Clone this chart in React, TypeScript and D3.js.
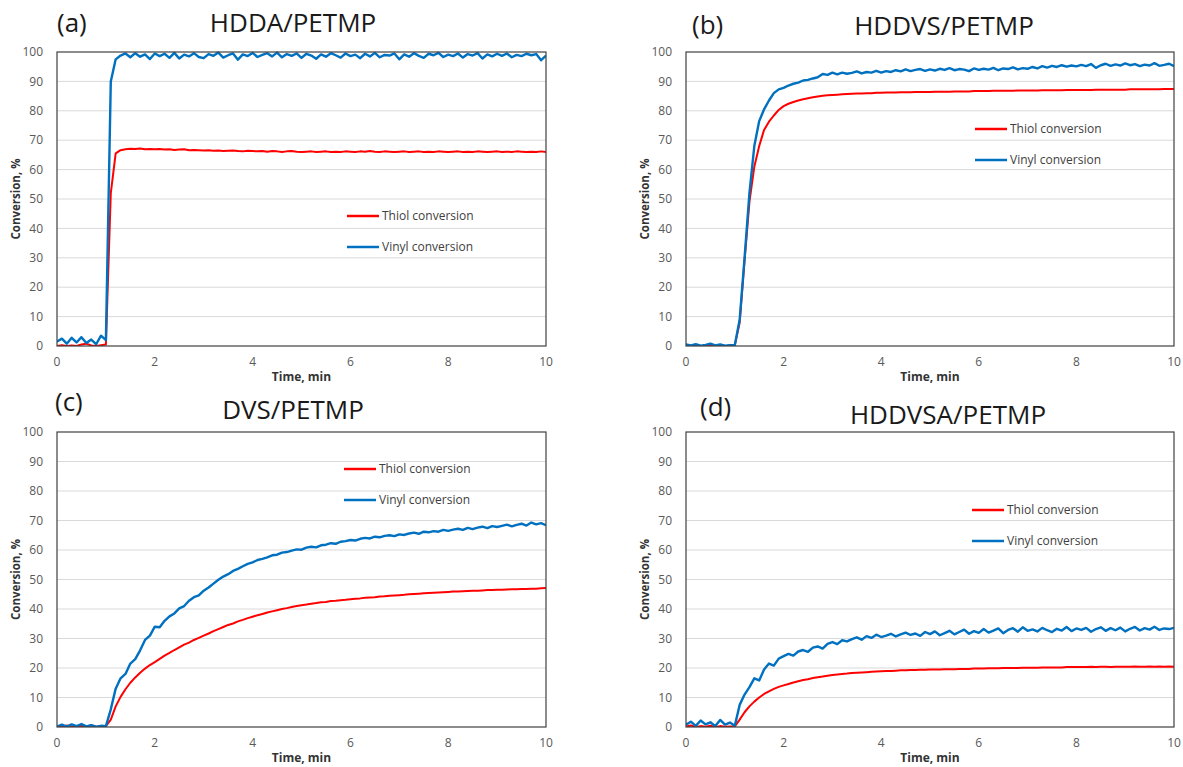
import React from "react";
import * as d3 from "d3";

// ---------- data ----------
const timeMin = [
  0, 0.1, 0.2, 0.3, 0.4, 0.5, 0.6, 0.7, 0.8, 0.9,
  1.0, 1.1, 1.2, 1.3, 1.4, 1.5, 1.6, 1.7, 1.8, 1.9,
  2.0, 2.1, 2.2, 2.3, 2.4, 2.5, 2.6, 2.7, 2.8, 2.9,
  3.0, 3.1, 3.2, 3.3, 3.4, 3.5, 3.6, 3.7, 3.8, 3.9,
  4.0, 4.1, 4.2, 4.3, 4.4, 4.5, 4.6, 4.7, 4.8, 4.9,
  5.0, 5.1, 5.2, 5.3, 5.4, 5.5, 5.6, 5.7, 5.8, 5.9,
  6.0, 6.1, 6.2, 6.3, 6.4, 6.5, 6.6, 6.7, 6.8, 6.9,
  7.0, 7.1, 7.2, 7.3, 7.4, 7.5, 7.6, 7.7, 7.8, 7.9,
  8.0, 8.1, 8.2, 8.3, 8.4, 8.5, 8.6, 8.7, 8.8, 8.9,
  9.0, 9.1, 9.2, 9.3, 9.4, 9.5, 9.6, 9.7, 9.8, 9.9,
  10.0,
];

const xTicks = [0, 2, 4, 6, 8, 10];
const yTicks = [0, 10, 20, 30, 40, 50, 60, 70, 80, 90, 100];

const panelTags = ["(a)", "(b)", "(c)", "(d)"];
const panelTitles = ["HDDA/PETMP", "HDDVS/PETMP", "DVS/PETMP", "HDDVSA/PETMP"];
const seriesNames = ["Thiol conversion", "Vinyl conversion"];

// (a) HDDA/PETMP
const thiolA = [
  0, 0.3, 0, 0.2, 0, 0.5, 0.8, 0.2, 0, 0.3,
  0.5, 52, 65.5, 66.6, 66.9, 67.1, 67.0, 67.2, 66.9, 67.0,
  66.9, 67.0, 66.8, 66.9, 66.7, 66.8, 66.9, 66.6, 66.7, 66.6,
  66.5, 66.6, 66.4, 66.5, 66.3, 66.4, 66.5, 66.3, 66.2, 66.4,
  66.3, 66.2, 66.3, 66.1, 66.3, 66.2, 66.0, 66.2, 66.3, 66.1,
  66.0, 66.1, 66.2, 66.0, 66.1, 66.2, 66.0, 66.1, 66.0, 66.2,
  66.1, 66.0, 66.2, 66.1, 66.3, 66.1, 66.0, 66.2, 66.1, 66.0,
  66.1, 66.2, 66.0, 66.1, 66.2, 66.0, 66.1, 66.0, 66.2, 66.1,
  66.0, 66.1, 66.2, 66.0, 66.1, 66.0, 66.2, 66.1, 66.0, 66.1,
  66.2, 66.0, 66.1, 66.0, 66.2, 66.1, 66.0, 66.1, 66.0, 66.2,
  66.0,
];
const vinylA = [
  1.5, 2.5, 0.8, 2.8, 1.2, 3.0, 1.0, 2.2, 0.6, 3.5,
  2.0, 90, 97.5, 98.8, 99.5, 98.2, 99.6, 98.4, 99.2, 97.6,
  99.5, 98.6, 99.4, 98.0, 99.7, 97.8, 99.1, 98.5, 99.6, 98.3,
  97.9, 99.3, 98.7, 99.8, 98.1, 98.9, 99.5, 97.4, 99.2, 98.6,
  99.7, 98.3, 99.0, 99.6, 98.5, 99.8, 98.2, 99.3, 98.7, 99.5,
  98.0, 99.4, 98.8, 97.7, 99.2, 98.4, 99.6, 98.9, 98.1, 99.5,
  98.6, 99.1, 97.9, 99.4, 98.5, 99.7, 98.2, 99.0, 98.8, 99.5,
  97.5, 99.2, 98.4, 99.6, 98.7, 98.0, 99.4, 98.9, 99.7, 98.3,
  99.1, 98.6, 99.5, 98.1, 99.3, 98.8, 99.6, 97.8, 99.2, 98.5,
  99.4, 98.7, 99.5, 98.2, 99.0, 98.6, 99.4, 98.9, 99.3, 97.2,
  98.8,
];

// (b) HDDVS/PETMP
const thiolB = [
  0.2, 0, 0.3, 0, 0.1, 0.4, 0, 0.2, 0, 0.1,
  0.2, 8, 29, 49, 61, 68, 73.5, 76.3, 78.4, 80.3,
  81.6, 82.4, 83.0, 83.5, 83.9, 84.3, 84.6, 84.9, 85.1, 85.3,
  85.4, 85.5, 85.6, 85.7, 85.8, 85.9, 85.9, 86.0, 86.0, 86.1,
  86.1, 86.2, 86.2, 86.2, 86.3, 86.3, 86.3, 86.4, 86.4, 86.4,
  86.4, 86.5, 86.5, 86.5, 86.5, 86.6, 86.6, 86.6, 86.6, 86.7,
  86.7, 86.7, 86.7, 86.8, 86.8, 86.8, 86.8, 86.8, 86.9, 86.9,
  86.9, 86.9, 86.9, 87.0, 87.0, 87.0, 87.0, 87.0, 87.1, 87.1,
  87.1, 87.1, 87.1, 87.1, 87.2, 87.2, 87.2, 87.2, 87.2, 87.2,
  87.2, 87.3, 87.3, 87.3, 87.3, 87.3, 87.3, 87.3, 87.4, 87.4,
  87.4,
];
const vinylB = [
  0.5, 0.2, 0.6, 0.1, 0.4, 0.8, 0.2, 0.5, 0.1, 0.3,
  0.3, 9, 30, 52, 68, 76.5, 80.5, 83.5, 86, 87.3,
  87.8, 88.6, 89.2, 89.6, 90.3, 90.5, 91.0, 91.4, 92.5, 92.2,
  93.0, 92.4, 93.0, 92.6, 92.9, 93.4, 92.7, 93.2, 93.0, 93.6,
  93.0, 93.5, 93.2, 93.8, 93.4, 94.1, 93.5, 93.9, 94.2, 93.6,
  94.1, 93.7, 94.3, 93.9, 94.5, 93.8, 94.2, 94.0, 93.5, 94.4,
  93.9, 94.3, 94.0, 94.6, 93.8, 94.4, 94.2, 94.8, 94.1, 94.5,
  94.3, 94.9, 94.4, 95.2, 94.7, 95.3, 94.9, 95.5, 95.0, 95.4,
  95.1, 95.6, 95.2, 95.9, 94.6, 95.5, 96.0, 95.3, 95.8, 95.4,
  96.1, 95.5, 95.9, 95.2, 95.7, 95.4, 96.2, 95.3, 95.6, 96.0,
  95.2,
];

// (c) DVS/PETMP
const thiolC = [
  0.3, 0, 0.5, 0.2, 0, 0.4, 0.1, 0.6, 0, 0.2,
  0.3, 2.5, 7, 10.2, 12.8, 15.0, 16.8, 18.4, 19.8, 21.0,
  22.0, 23.1, 24.2, 25.1, 26.1, 27.0, 27.9, 28.6, 29.5, 30.2,
  31.0, 31.7, 32.5, 33.2, 33.9, 34.6, 35.1, 35.8, 36.3, 36.9,
  37.4, 37.9, 38.3, 38.8, 39.2, 39.6, 40.0, 40.3, 40.7, 41.0,
  41.3, 41.5, 41.8, 42.0, 42.3, 42.4, 42.7, 42.8, 43.0, 43.1,
  43.3, 43.5, 43.6, 43.8, 43.9, 44.0, 44.2, 44.3, 44.5, 44.6,
  44.7, 44.8, 45.0, 45.1, 45.2, 45.3, 45.4, 45.5, 45.6, 45.7,
  45.8, 45.9, 45.9, 46.0, 46.1, 46.2, 46.2, 46.3, 46.4, 46.4,
  46.5, 46.5, 46.6, 46.7, 46.7, 46.8, 46.8, 46.9, 46.9, 47.0,
  47.1,
];
const vinylC = [
  0.2, 0.8, 0.1, 0.9, 0.3, 1.0, 0.2, 0.6, 0.1, 0.4,
  0.3, 6, 13, 16.5, 18, 21.5, 23, 26, 29.5, 31,
  34, 33.8, 36, 37.5, 38.5, 40.2, 41, 42.8, 44, 44.6,
  46.2, 47.3, 48.6, 49.9, 51.0, 51.8, 52.9, 53.6, 54.5, 55.3,
  55.8, 56.6, 57.0, 57.5, 58.2, 58.4, 59.1, 59.3, 59.8, 60.2,
  60.1, 60.8, 61.1, 60.9, 61.6, 61.8, 62.3, 62.1, 62.8, 63.0,
  63.4, 63.2, 63.8, 64.1, 63.9, 64.5, 64.3, 64.8, 65.0, 64.7,
  65.3, 65.1, 65.6, 65.9, 65.5, 66.2, 66.0, 66.4, 66.2, 66.8,
  66.5, 66.9, 67.2, 66.8, 67.5, 67.1, 67.6, 67.9, 67.4, 68.1,
  67.8, 68.2, 68.6, 68.0, 68.5, 68.9, 68.3, 69.3, 68.7, 69.1,
  68.4,
];

// (d) HDDVSA/PETMP
const thiolD = [
  0.2, 0.5, 0, 0.3, 0.1, 0.4, 0, 0.3, 0.1, 0.2,
  0.2, 2.5, 5.0, 7.0, 8.6, 10.0, 11.2, 12.1, 12.9, 13.6,
  14.1, 14.6, 15.1, 15.5, 15.9, 16.2, 16.6, 16.9, 17.1, 17.4,
  17.6, 17.8, 18.0, 18.1, 18.3, 18.4, 18.5, 18.6, 18.7, 18.8,
  18.9, 19.0, 19.0, 19.1, 19.2, 19.2, 19.3, 19.3, 19.4, 19.4,
  19.5, 19.5, 19.5, 19.6, 19.6, 19.6, 19.7, 19.7, 19.7, 19.8,
  19.8, 19.8, 19.9, 19.9, 19.9, 20.0, 20.0, 20.0, 20.0, 20.1,
  20.1, 20.1, 20.1, 20.2, 20.2, 20.2, 20.2, 20.2, 20.3, 20.3,
  20.3, 20.3, 20.3, 20.4, 20.3, 20.4, 20.4, 20.3, 20.4, 20.4,
  20.4, 20.4, 20.5, 20.4, 20.4, 20.5, 20.4, 20.5, 20.4, 20.5,
  20.4,
];
const vinylD = [
  0.8, 1.8, 0.4, 2.2, 0.9, 1.6, 0.3, 2.4, 0.8, 1.5,
  0.4, 7.5, 11, 13.5, 16.5, 15.8, 19.5, 21.5, 20.8, 23.2,
  24.0, 24.8, 24.2, 25.6, 26.1, 25.5, 26.9, 27.3, 26.6, 28.2,
  28.8, 28.1, 29.4, 29.0, 29.8, 30.4, 29.6, 30.8, 30.2, 31.3,
  30.5, 31.0, 31.6, 30.7, 31.4, 32.0, 31.2, 31.7, 30.9, 32.2,
  31.5, 32.4, 31.1, 31.8, 32.6, 31.4, 32.2, 33.0, 31.6, 32.5,
  31.9, 33.2, 32.0, 32.7, 33.4, 31.8, 32.9, 33.5, 32.3, 33.8,
  32.6, 33.1, 32.4, 33.6, 32.8, 32.2, 33.3, 32.7, 33.9, 32.5,
  33.4, 32.9, 33.6, 32.3, 33.2, 33.8, 32.6, 33.5, 32.8, 33.7,
  32.4, 33.3, 33.9, 32.7, 33.5, 33.0, 34.0, 32.9, 33.4, 33.2,
  33.6,
];

const thiolSeries = [thiolA, thiolB, thiolC, thiolD];
const vinylSeries = [vinylA, vinylB, vinylC, vinylD];

// ---------- layout ----------
const W = 1183;
const H = 767;
const RED = "#FF0000";
const BLUE = "#0070C0";
const FONT = "'Open Sans', 'DejaVu Sans', sans-serif";

type Layout = {
  x0: number; x1: number; y0: number; y1: number;
  tagX: number; tagY: number; titleX: number; titleY: number;
  legX: number; legY: number;
};

const layouts: Layout[] = [
  { x0: 57, x1: 546, y0: 52, y1: 346, tagX: 57, tagY: 32, titleX: 293, titleY: 32, legX: 347, legY: 216 },
  { x0: 686, x1: 1174, y0: 52, y1: 346, tagX: 692, tagY: 34, titleX: 944, titleY: 35, legX: 975, legY: 129 },
  { x0: 57, x1: 546, y0: 432, y1: 727, tagX: 55, tagY: 411, titleX: 293, titleY: 419, legX: 344, legY: 469 },
  { x0: 686, x1: 1174, y0: 432, y1: 727, tagX: 700, tagY: 416, titleX: 948, titleY: 424, legX: 972, legY: 510 },
];

function Panel({ idx }: { idx: number }) {
  const L = layouts[idx];
  const x = d3.scaleLinear().domain([0, 10]).range([L.x0, L.x1]);
  const y = d3.scaleLinear().domain([0, 100]).range([L.y1, L.y0]);
  const line = d3
    .line<number>()
    .x((_, i) => x(timeMin[i]))
    .y((v) => y(v))
    .curve(d3.curveLinear);
  const thiol = thiolSeries[idx];
  const vinyl = vinylSeries[idx];
  const midX = (L.x0 + L.x1) / 2;
  const midY = (L.y0 + L.y1) / 2;
  const legGap = 31;
  return (
    <g>
      {/* titles */}
      <text x={L.tagX} y={L.tagY} fontSize={26} fill="#1a1a1a" fontFamily={FONT}>
        {panelTags[idx]}
      </text>
      <text x={L.titleX} y={L.titleY} fontSize={26} fill="#1a1a1a" fontFamily={FONT} textAnchor="middle">
        {panelTitles[idx]}
      </text>
      {/* gridlines */}
      {yTicks.filter((t) => t > 0 && t < 100).map((t) => (
        <line key={t} x1={L.x0} x2={L.x1} y1={y(t)} y2={y(t)} stroke="#d9d9d9" strokeWidth={1} />
      ))}
      {/* series */}
      <clipPath id={`clip${idx}`}>
        <rect x={L.x0} y={L.y0 - 1} width={L.x1 - L.x0} height={L.y1 - L.y0 + 1} />
      </clipPath>
      <g clipPath={`url(#clip${idx})`}>
        <path d={line(thiol) || ""} fill="none" stroke={RED} strokeWidth={2} strokeLinejoin="round" />
        <path d={line(vinyl) || ""} fill="none" stroke={BLUE} strokeWidth={2.4} strokeLinejoin="round" />
      </g>
      {/* frame */}
      <rect x={L.x0} y={L.y0} width={L.x1 - L.x0} height={L.y1 - L.y0} fill="none" stroke="#404040" strokeWidth={1.2} />
      {/* y tick labels */}
      {yTicks.map((t) => (
        <text key={t} x={L.x0 - 14} y={y(t)} dy="0.35em" textAnchor="end" fontSize={12} fill="#595959" fontFamily={FONT}>
          {t}
        </text>
      ))}
      {/* x tick labels */}
      {xTicks.map((t) => (
        <text key={t} x={x(t)} y={L.y1 + 20} textAnchor="middle" fontSize={12} fill="#595959" fontFamily={FONT}>
          {t}
        </text>
      ))}
      {/* axis titles */}
      <text x={midX} y={L.y1 + 35} textAnchor="middle" fontSize={12} fontWeight="bold" fill="#333" fontFamily={FONT}>
        Time, min
      </text>
      <text
        transform={`translate(${L.x0 - 41},${midY}) rotate(-90)`}
        textAnchor="middle"
        dy="0.35em"
        fontSize={11.5}
        fontWeight="bold"
        fill="#333"
        fontFamily={FONT}
      >
        Conversion, %
      </text>
      {/* legend */}
      {seriesNames.map((name, i) => (
        <g key={name}>
          <line x1={L.legX} x2={L.legX + 32} y1={L.legY + i * legGap} y2={L.legY + i * legGap} stroke={i === 0 ? RED : BLUE} strokeWidth={2.5} />
          <text x={L.legX + 35} y={L.legY + i * legGap} dy="0.35em" fontSize={12} fill="#404040" fontFamily={FONT}>
            {name}
          </text>
        </g>
      ))}
    </g>
  );
}

export default function App() {
  return (
    <svg
      width={W}
      height={H}
      viewBox={`0 0 ${W} ${H}`}
      style={{ position: "absolute", left: 0, top: 0, background: "#fff" }}
    >
      <rect x={0} y={0} width={W} height={H} fill="#fff" />
      {[0, 1, 2, 3].map((i) => (
        <Panel key={i} idx={i} />
      ))}
    </svg>
  );
}
